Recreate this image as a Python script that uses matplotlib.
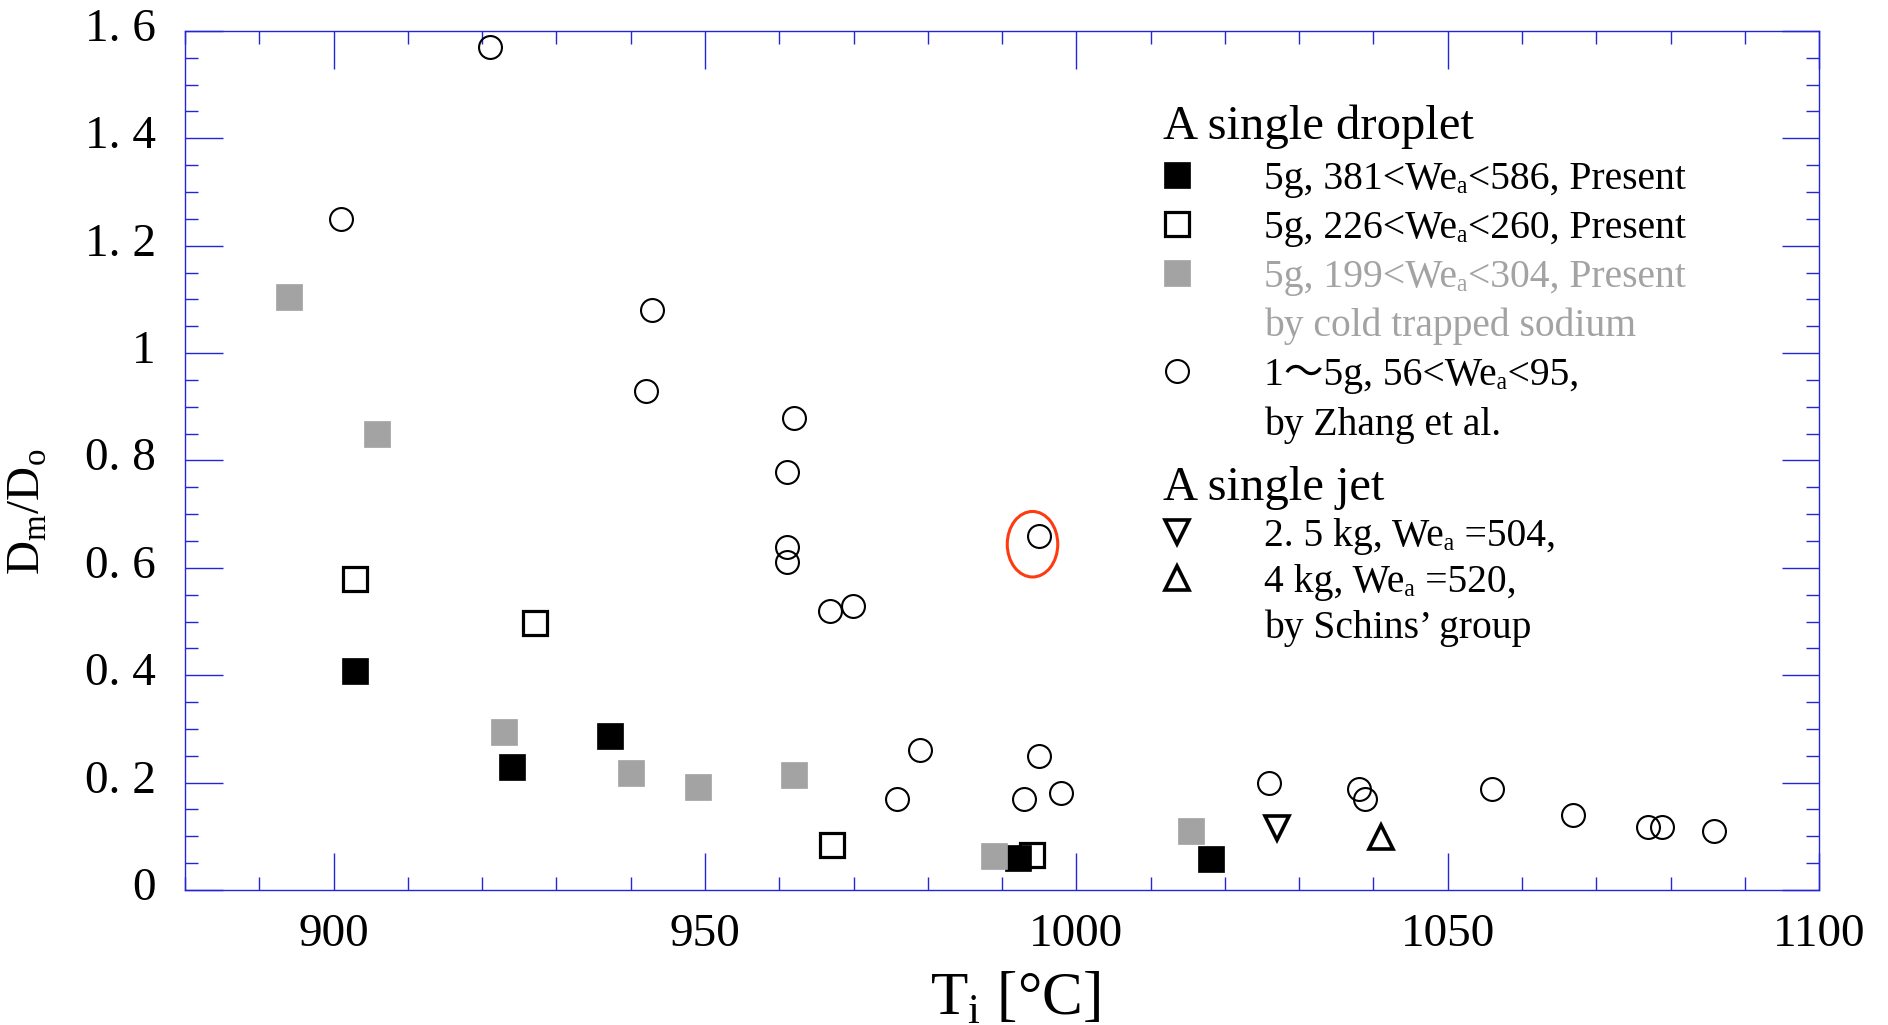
import matplotlib
matplotlib.use("Agg")
import matplotlib.pyplot as plt
from matplotlib.lines import Line2D
from matplotlib.patches import Ellipse
from matplotlib.ticker import MultipleLocator, FuncFormatter
from matplotlib.transforms import ScaledTranslation

plt.rcParams['font.family'] = ['Liberation Serif', 'DejaVu Serif', 'Noto Sans CJK SC']
plt.rcParams['mathtext.fontset'] = 'custom'
plt.rcParams['mathtext.rm'] = 'Liberation Serif'

# present data, 5 g droplets
black_T = [902.9, 924.0, 937.2, 992.1, 1018.1]
black_D = [0.408, 0.229, 0.287, 0.059, 0.058]
open_T = [902.9, 927.1, 967.1, 994.0]
open_D = [0.579, 0.498, 0.084, 0.065]
gray_T = [894.0, 905.9, 923.0, 940.0, 949.0, 962.0, 988.9, 1015.4]
gray_D = [1.104, 0.850, 0.295, 0.218, 0.192, 0.214, 0.063, 0.110]

# Zhang et al.
zhang_T = [901.0, 921.0, 942.0, 942.9, 961.0, 961.0, 961.0, 962.0, 966.9, 969.9,
           975.9, 978.9, 992.9, 995.0, 995.0, 997.9, 1025.9, 1038.0, 1038.9,
           1055.9, 1066.9, 1076.9, 1078.9, 1085.9]
zhang_D = [1.250, 1.570, 0.929, 1.080, 0.779, 0.639, 0.610, 0.880, 0.520, 0.529,
           0.169, 0.260, 0.169, 0.659, 0.250, 0.180, 0.199, 0.189, 0.169,
           0.189, 0.140, 0.117, 0.118, 0.109]

# Schins' group, single jet
jet25_T, jet25_D = [1027.0], [0.116]
jet4_T, jet4_D = [1041.0], [0.098]

# circled point
mark_T, mark_D = 994.1, 0.644

blue = '#2424d8'
gray = '#a3a3a3'

fig = plt.figure(figsize=(18.88, 10.25), dpi=100)
ax = fig.add_axes([0.098, 0.1317, 0.8655, 0.8381])

sq_filled = dict(ms=19, mew=0.5)
sq_open = dict(mfc='none', mec='k', ms=17.5, mew=2.3)
circ = dict(mfc='none', mec='k', ms=16.5, mew=1.5)
tri = dict(mfc='none', mec='k', ms=17.5, mew=2.6)

ax.plot(black_T, black_D, 's', color='k', zorder=3, **sq_filled)
ax.plot(open_T, open_D, 's', zorder=4, **sq_open)
ax.plot(gray_T, gray_D, 's', color=gray, zorder=5, **sq_filled)
ax.plot(zhang_T, zhang_D, 'o', zorder=4, **circ)
ax.plot(jet25_T, jet25_D, 'v', zorder=4, **tri)
ax.plot(jet4_T, jet4_D, '^', zorder=4, **tri)

ax.add_patch(Ellipse((mark_T, mark_D), 6.8, 0.122, fill=False,
                     ec='#ff3a10', lw=2.2, zorder=6))

ax.set_xlim(880, 1100)
ax.set_ylim(0, 1.6)
ax.xaxis.set_major_locator(MultipleLocator(50))
ax.xaxis.set_minor_locator(MultipleLocator(10))
ax.yaxis.set_major_locator(MultipleLocator(0.2))
ax.yaxis.set_minor_locator(MultipleLocator(0.05))


def yfmt(v, pos):
    if abs(v - round(v)) < 1e-6:
        return '%d' % round(v)
    return ('%.1f' % v).replace('.', '. ')


ax.yaxis.set_major_formatter(FuncFormatter(yfmt))
ax.tick_params(which='both', direction='in', top=True, right=True,
               color=blue, width=1.0, labelsize=34)
ax.tick_params(which='major', length=27)
ax.tick_params(which='minor', length=9.5)
ax.tick_params(axis='y', pad=21)
ax.tick_params(axis='x', pad=17)
for s in ax.spines.values():
    s.set_color(blue)
    s.set_linewidth(1.0)

# y tick labels sit a little above their ticks in the original
shift = ScaledTranslation(0, 4.5 / 72, fig.dpi_scale_trans)
for lab in ax.get_yticklabels():
    lab.set_transform(lab.get_transform() + shift)

ax.set_ylabel('D$_\\mathregular{m}$/D$_\\mathregular{o}$', fontsize=34)
ax.yaxis.set_label_coords(-0.083, 0.44)
ax.set_xlabel('T$_\\mathregular{i}$ [°C]', fontsize=44, va='top')
ax.xaxis.set_label_coords(0.508, -0.093)

# legends
blank = Line2D([], [], ls='none')
h1 = [Line2D([], [], ls='none', marker='s', color='k', **sq_filled),
      Line2D([], [], ls='none', marker='s', **sq_open),
      Line2D([], [], ls='none', marker='s', color=gray, **sq_filled),
      blank,
      Line2D([], [], ls='none', marker='o', **circ),
      blank]
l1 = ['5g, 381<Weₐ<586, Present',
      '5g, 226<Weₐ<260, Present',
      '5g, 199<Weₐ<304, Present',
      'by cold trapped sodium',
      '1～5g, 56<Weₐ<95,',
      'by Zhang et al.']
c1 = ['k', 'k', gray, gray, 'k', 'k']

h2 = [Line2D([], [], ls='none', marker='v', **tri),
      Line2D([], [], ls='none', marker='^', **tri),
      blank]
l2 = ['2. 5 kg, Weₐ =504,',
      '4 kg, Weₐ =520,',
      'by Schins’ group']
c2 = ['k', 'k', 'k']

leg_kw = dict(frameon=False, fontsize=28.5, title_fontsize=35, loc='upper left',
              handlelength=0.7, handletextpad=1.85,
              borderpad=0, borderaxespad=0, alignment='left')
leg1 = ax.legend(h1, l1, title='A single droplet', labelcolor=c1,
                 labelspacing=0.30, bbox_to_anchor=(0.5985, 0.914), **leg_kw)
ax.add_artist(leg1)
leg2 = ax.legend(h2, l2, title='A single jet', labelcolor=c2,
                 labelspacing=0.22, bbox_to_anchor=(0.5985, 0.494), **leg_kw)

fig.savefig('out.png', dpi=100)
